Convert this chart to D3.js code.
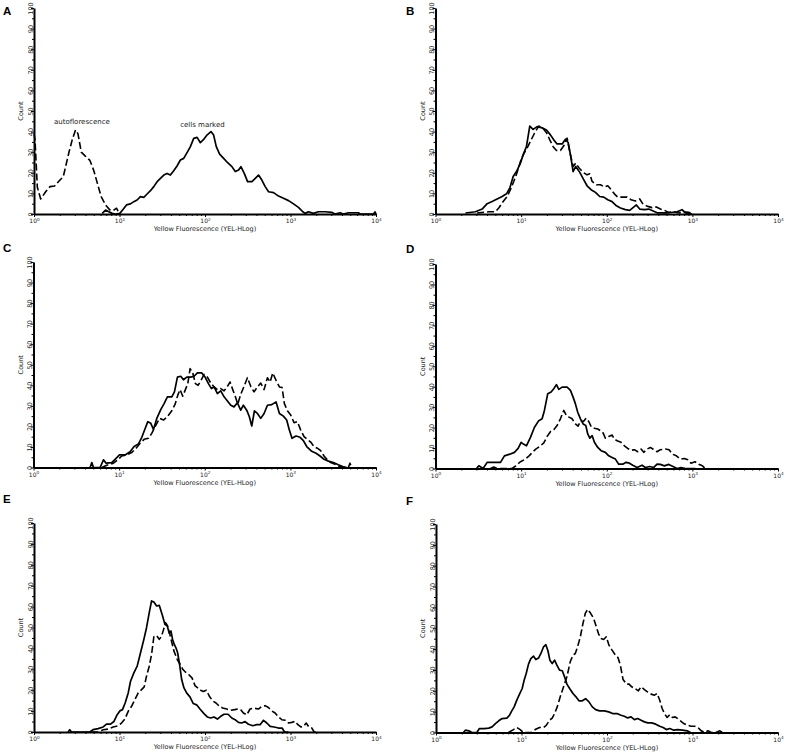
<!DOCTYPE html>
<html>
<head>
<meta charset="utf-8">
<script src="https://cdn.jsdelivr.net/npm/d3@7"></script>
<style>
  body { margin: 0; background: #fff; }
  svg { display: block; }
</style>
</head>
<body>
<div id="app"></div>
<script>
// axis ticks
const decades = [0, 1, 2, 3, 4];
const countTicks = [0, 10, 20, 30, 40, 50, 60, 70, 80, 90, 100];
const xTitle = 'Yellow Fluorescence (YEL-HLog)';
const yTitle = 'Count';

// every curve is a list of [log10 fluorescence, count]
const aDashed = [[0,39],[0.012,36],[0.039,13],[0.078,7.3],[0.136,10.8],[0.187,13.3],[0.241,13.6],[0.304,16.5],[0.342,18.1],[0.37,23],[0.409,30],[0.447,36],[0.486,40.8],[0.514,39],[0.553,30],[0.603,28],[0.654,26],[0.7,21],[0.747,14],[0.786,8.4],[0.837,4.4],[0.887,2],[0.926,1.6],[0.965,2.8],[1.0,0]];
const aSolid = [[0.798,0.3],[0.837,1.9],[0.875,1.1],[0.914,0.3],[0.953,0],[1.004,0.3],[1.043,2.3],[1.082,4.4],[1.128,4.9],[1.167,6],[1.206,6.8],[1.245,8.4],[1.284,8.1],[1.323,9.7],[1.362,11.3],[1.401,13.3],[1.44,15.7],[1.479,17.3],[1.518,18.9],[1.556,19.7],[1.595,18.9],[1.634,21],[1.673,23.3],[1.712,26.2],[1.751,27],[1.79,29.8],[1.829,32.7],[1.868,36.7],[1.907,37.2],[1.946,34.6],[1.984,36.2],[2.023,38.3],[2.07,40],[2.101,38.3],[2.132,32.7],[2.171,29.1],[2.218,27],[2.265,24.9],[2.315,23],[2.354,20.6],[2.393,21.4],[2.42,23],[2.459,19.7],[2.498,15.7],[2.549,15.7],[2.588,17.3],[2.626,18.9],[2.665,16.5],[2.704,13.3],[2.743,10.8],[2.802,10.4],[2.86,8.7],[2.918,7.6],[2.977,6.5],[3.035,4.9],[3.093,3.2],[3.144,1.1],[3.171,0.3],[3.21,1.1],[3.268,0.3],[3.327,1.1],[3.405,1.1],[3.482,0.8],[3.521,0],[3.58,0.6],[3.619,0],[3.677,0.6],[3.794,0.6],[3.813,0],[3.969,0],[3.988,1],[4.0,0]];

const bSolid = [[0.35,0.5],[0.467,1.1],[0.545,2.4],[0.603,5],[0.661,6.1],[0.72,7.3],[0.778,8.5],[0.829,9.8],[0.868,12.6],[0.907,18.2],[0.946,20.6],[0.992,24.7],[1.023,28.7],[1.062,32.7],[1.101,42.7],[1.14,41.1],[1.187,42.4],[1.245,41.8],[1.296,40.8],[1.342,38.4],[1.381,36],[1.42,34],[1.479,34],[1.518,36.3],[1.549,34.7],[1.58,27.9],[1.607,20.6],[1.638,23.1],[1.685,20.2],[1.732,16.6],[1.77,13.7],[1.817,11.8],[1.868,10.5],[1.918,8.5],[1.965,8.2],[2.012,6.9],[2.062,6],[2.113,4],[2.16,2.9],[2.218,2.1],[2.268,1.8],[2.307,3.1],[2.346,4.4],[2.385,2.4],[2.44,2.1],[2.49,2.4],[2.549,1.3],[2.595,0.5],[2.704,0.5],[2.821,1.1],[2.879,2.1],[2.918,0.5],[2.996,0]];
const bDashed = [[0.486,0.5],[0.623,1.1],[0.7,1.1],[0.739,2.9],[0.79,6.1],[0.837,8.5],[0.875,11.8],[0.914,15.8],[0.953,20.2],[1.0,26.6],[1.039,29.8],[1.078,32.7],[1.117,36],[1.156,39.2],[1.206,42.7],[1.257,41.5],[1.296,39.5],[1.335,36],[1.374,32.7],[1.412,30.8],[1.459,30.8],[1.498,33.1],[1.537,36.8],[1.576,28.7],[1.607,23.1],[1.638,24.7],[1.677,22.3],[1.724,20.2],[1.77,19],[1.802,19.5],[1.829,15.8],[1.879,14.2],[1.926,14.2],[1.973,13.1],[2.012,13.7],[2.051,11.8],[2.089,9.8],[2.128,8.2],[2.179,8.2],[2.237,8.2],[2.284,6.9],[2.335,6.3],[2.385,7.3],[2.424,4.7],[2.479,3.7],[2.529,3.1],[2.58,3.4],[2.626,2.4],[2.673,1.8],[2.724,0.8],[2.782,1.1],[2.84,0.5],[2.899,1.1],[2.957,0.8],[3.016,0]];

const cSolid = [[0.661,0],[0.681,2.4],[0.7,0],[0.778,0],[0.817,3.7],[0.848,2.1],[0.914,2.4],[0.953,4],[1.004,6.1],[1.07,6.1],[1.128,7.7],[1.175,10.2],[1.226,11.5],[1.265,14.7],[1.304,19],[1.335,22.3],[1.37,21.5],[1.401,18.5],[1.44,23.9],[1.486,28.2],[1.525,31.1],[1.564,34.4],[1.615,34.4],[1.646,36.8],[1.681,44],[1.72,44.4],[1.751,42.7],[1.79,44],[1.837,44],[1.875,44.4],[1.914,46],[1.965,46],[2.004,44],[2.043,40.8],[2.078,38.4],[2.109,39.2],[2.148,36],[2.187,37.3],[2.226,34.4],[2.265,32.4],[2.304,30.3],[2.342,29.5],[2.381,31.5],[2.42,27.9],[2.451,30.3],[2.49,27.9],[2.521,24.7],[2.549,20.2],[2.58,27.6],[2.615,26.3],[2.654,23.9],[2.693,26.3],[2.732,30.3],[2.782,30.6],[2.833,31.9],[2.872,26.3],[2.918,25],[2.957,23.1],[2.988,18.2],[3.019,14.2],[3.066,15.3],[3.113,14.7],[3.152,13.1],[3.191,10.2],[3.249,7.9],[3.3,6.9],[3.346,5.6],[3.393,4],[3.444,3.1],[3.502,2.4],[3.56,1.3],[3.611,0.5],[3.658,0]];
const cDashed = [[0.798,0],[0.856,1.1],[0.934,2.1],[0.981,3.7],[1.031,5.6],[1.089,6.1],[1.148,7.3],[1.198,9.4],[1.245,11.8],[1.292,13.7],[1.342,14.2],[1.381,16.6],[1.42,19.8],[1.471,23.9],[1.518,23.1],[1.564,24.7],[1.615,27.6],[1.654,30.8],[1.685,35.2],[1.712,37.9],[1.743,34.7],[1.774,37.9],[1.802,40.8],[1.829,48.1],[1.86,46],[1.891,40.8],[1.922,40],[1.957,42.4],[1.992,45.3],[2.031,44],[2.07,41.1],[2.109,39.2],[2.148,37.9],[2.187,38.4],[2.226,37.3],[2.265,39.5],[2.296,41.6],[2.327,37.9],[2.358,34.4],[2.385,30.8],[2.42,35.6],[2.459,39.5],[2.498,43.7],[2.537,39.5],[2.576,36.8],[2.615,39.2],[2.654,41.1],[2.693,37.9],[2.732,43.7],[2.763,41.6],[2.794,46],[2.833,42.4],[2.872,39.2],[2.903,38.9],[2.93,31.1],[2.965,27.6],[3.004,25.5],[3.043,21.8],[3.082,22.3],[3.121,18.2],[3.16,15],[3.198,13.7],[3.237,12.4],[3.276,10.2],[3.315,9.4],[3.354,8.2],[3.393,5.6],[3.432,3.7],[3.471,2.4],[3.521,1.6],[3.572,0.5],[3.619,0],[3.677,0],[3.696,2.1],[3.716,0]];

const dSolid = [[0.479,0],[0.506,1.3],[0.556,0],[0.603,3],[0.759,3],[0.805,6.2],[0.868,7],[0.922,7.9],[0.965,9.8],[1.0,12.8],[1.031,11.8],[1.062,11.1],[1.109,15.2],[1.156,20.2],[1.206,23.4],[1.245,24.3],[1.272,28.4],[1.311,36.6],[1.35,37.4],[1.381,39],[1.412,41],[1.44,38.7],[1.479,39.8],[1.537,39.8],[1.576,38.2],[1.607,34.9],[1.634,31.6],[1.661,27.5],[1.693,24.3],[1.724,21.8],[1.755,21],[1.778,16.9],[1.802,14.8],[1.829,16.1],[1.856,12.8],[1.895,10.3],[1.934,8.7],[1.984,7.9],[2.023,6.2],[2.062,5.4],[2.101,4.6],[2.14,2.1],[2.187,2.1],[2.226,3],[2.265,2.6],[2.304,1.6],[2.354,0.5],[2.412,1.6],[2.451,0.5],[2.502,1],[2.549,0.5],[2.588,2.1],[2.626,2],[2.673,1.3],[2.724,2],[2.774,1],[2.821,0],[2.868,0.5],[2.918,0],[3.035,0]];
const dDashed = [[0.642,0],[0.681,0.7],[0.72,0],[0.895,0],[0.938,1.3],[0.992,3.3],[1.051,4.6],[1.093,6.2],[1.132,7.9],[1.171,9.5],[1.218,10.8],[1.265,12.5],[1.304,15.7],[1.342,18],[1.381,19],[1.42,21],[1.459,24.3],[1.498,28.4],[1.529,25.9],[1.56,25.1],[1.595,24.3],[1.634,21.8],[1.665,20.7],[1.696,23.4],[1.728,23],[1.759,24.6],[1.79,23],[1.821,20.2],[1.856,19.7],[1.895,19.3],[1.926,18.5],[1.957,17.4],[1.984,14.8],[2.023,15.7],[2.062,16.4],[2.089,14.4],[2.128,13.4],[2.167,12.8],[2.206,11.1],[2.245,9.8],[2.284,8.9],[2.323,9.2],[2.362,8.2],[2.401,9.5],[2.432,7.9],[2.471,9.5],[2.51,10.3],[2.549,9.2],[2.588,8.2],[2.626,9.2],[2.685,9.5],[2.728,9.2],[2.767,7],[2.813,6.2],[2.86,4.6],[2.907,4.9],[2.946,4.3],[2.984,2.6],[3.031,3.3],[3.074,2.1],[3.117,1.3],[3.152,0]];

const eSolid = [[0.398,0],[0.418,1.1],[0.438,0],[0.652,0],[0.691,1.1],[0.75,1.6],[0.809,2.4],[0.848,3.8],[0.895,3.8],[0.934,5],[0.973,8.3],[1.004,10.1],[1.035,10.7],[1.066,13.9],[1.102,18.7],[1.129,24.3],[1.168,28.3],[1.207,31.5],[1.246,37.9],[1.285,44.3],[1.316,49.9],[1.348,57.1],[1.375,62.7],[1.402,62.2],[1.434,60.3],[1.465,60.6],[1.504,55.5],[1.531,51.5],[1.559,50.7],[1.582,47.2],[1.602,48.3],[1.621,44.3],[1.641,41.9],[1.66,40.3],[1.68,37.9],[1.703,32.3],[1.727,25.1],[1.754,21.1],[1.785,18.7],[1.824,16.8],[1.863,13.6],[1.902,13],[1.941,11],[1.988,8.8],[2.027,7.2],[2.066,6.7],[2.105,7.2],[2.145,6.2],[2.184,7.5],[2.223,8.5],[2.27,8.5],[2.313,6.7],[2.352,5.9],[2.391,4.6],[2.43,4.3],[2.469,5],[2.508,3.7],[2.559,3],[2.605,3.5],[2.645,3.5],[2.684,5.6],[2.723,4.3],[2.762,2.7],[2.809,2.4],[2.859,1.9],[2.902,1.9],[2.93,0],[2.977,0]];
const eDashed = [[0.672,0],[0.75,0],[0.809,1.1],[0.867,1.4],[0.926,2.4],[0.984,3],[1.023,4.3],[1.063,6.2],[1.102,9.9],[1.141,12.3],[1.18,15.5],[1.219,18.7],[1.258,20.3],[1.289,21.6],[1.316,26.7],[1.348,31.5],[1.375,37.1],[1.402,45.6],[1.434,46.2],[1.465,44.3],[1.492,45.9],[1.516,49.1],[1.539,52.3],[1.563,50.7],[1.586,47.2],[1.613,42.7],[1.637,38.7],[1.676,34.7],[1.711,32.3],[1.742,29.9],[1.773,28.6],[1.809,27.5],[1.848,25.9],[1.883,22.2],[1.918,21],[1.949,20],[1.98,19.4],[2.016,20],[2.051,17.1],[2.09,14.9],[2.129,13.9],[2.168,12.3],[2.207,11.5],[2.254,11],[2.301,10.4],[2.348,10.7],[2.387,11],[2.418,10.7],[2.449,9.1],[2.488,8.2],[2.527,11],[2.574,11.4],[2.625,11],[2.664,12.3],[2.703,12.6],[2.742,11.7],[2.781,10.1],[2.82,9.1],[2.859,7.2],[2.898,5.9],[2.938,5.6],[2.977,4.3],[3.016,4.6],[3.055,5.1],[3.086,3.5],[3.121,2.4],[3.152,2.7],[3.184,4.3],[3.215,2.4],[3.25,1.9],[3.277,0],[3.309,0]];

const fSolid = [[0.32,0],[0.344,1.1],[0.383,0.8],[0.422,0],[0.477,0],[0.508,1.9],[0.563,1.9],[0.617,2.1],[0.656,2.7],[0.695,4.3],[0.734,5.6],[0.773,6.7],[0.828,6.9],[0.859,8.2],[0.883,10.1],[0.914,12.3],[0.945,15.5],[0.977,18.4],[1.008,21.1],[1.031,25.1],[1.055,28.3],[1.082,32.8],[1.109,35.4],[1.141,36.6],[1.168,35],[1.199,35.7],[1.227,37.9],[1.258,41.1],[1.285,42.1],[1.309,39.2],[1.332,34.7],[1.359,33.1],[1.387,34.7],[1.414,32.3],[1.445,29.9],[1.477,29.6],[1.504,26.7],[1.531,23.2],[1.563,21.1],[1.602,18.7],[1.637,17.1],[1.672,15.2],[1.711,15.2],[1.75,16.2],[1.789,14.7],[1.828,12.3],[1.867,11],[1.914,10.4],[1.969,10.4],[2.02,9.9],[2.066,9.1],[2.117,9.1],[2.164,8.3],[2.203,7.8],[2.242,7],[2.281,7.5],[2.32,6.2],[2.359,6.7],[2.398,5.9],[2.438,5.1],[2.477,4.6],[2.523,4.6],[2.57,4],[2.617,3],[2.656,2.4],[2.695,1.4],[2.734,1.9],[2.781,1.1],[2.828,1.4],[2.883,1.1],[2.938,0.8],[2.977,0]];
const fDashed = [[0.848,0],[0.906,1.4],[0.945,2.4],[0.984,1.4],[1.023,0],[1.121,0],[1.16,1.4],[1.211,2.4],[1.258,2.4],[1.289,3.4],[1.328,5.9],[1.359,6.9],[1.387,9.1],[1.418,12.3],[1.453,17.1],[1.492,21.9],[1.531,26.7],[1.57,33.9],[1.602,37.1],[1.629,37.9],[1.656,41.1],[1.688,45.9],[1.719,52.3],[1.746,57.1],[1.773,59],[1.805,57.4],[1.844,54.7],[1.875,50.7],[1.902,47.2],[1.93,45.1],[1.961,44.6],[1.992,45.9],[2.023,41.9],[2.059,39.5],[2.098,37.1],[2.129,35.9],[2.156,32.3],[2.188,25.4],[2.227,23.2],[2.258,23.2],[2.289,21.9],[2.328,21.1],[2.367,20],[2.398,21.9],[2.438,20.6],[2.477,19.4],[2.516,18.4],[2.555,17.9],[2.586,18.7],[2.617,15.5],[2.645,11.5],[2.672,9.1],[2.703,7.2],[2.734,8.5],[2.766,7.2],[2.797,7.5],[2.828,6.6],[2.859,5.6],[2.898,4.3],[2.938,3.5],[2.984,3],[3.023,3],[3.063,2.4],[3.102,0.8],[3.141,0],[3.18,0.8],[3.219,0],[3.27,0],[3.32,0.8],[3.352,0]];

// panel A annotations: [text, log10 fluorescence, count]
const annotations = [['autoflorescence', 0.56, 43.7], ['cells marked', 1.97, 42.4]];

// panel frames (pixel layout)
const panels = [
  { letter: 'A', x0: 34, x1: 376, y0: 214, yTop: 8, lx: 3, ly: 14.5, solid: aSolid, dashed: aDashed, notes: annotations },
  { letter: 'B', x0: 435.5, x1: 778, y0: 214, yTop: 8, lx: 406, ly: 14.5, solid: bSolid, dashed: bDashed },
  { letter: 'C', x0: 33.5, x1: 376, y0: 467.5, yTop: 262, lx: 3, ly: 252, solid: cSolid, dashed: cDashed },
  { letter: 'D', x0: 435.5, x1: 778, y0: 468.5, yTop: 264, lx: 406, ly: 252.5, solid: dSolid, dashed: dDashed },
  { letter: 'E', x0: 34, x1: 376, y0: 732, yTop: 523, lx: 3, ly: 503, solid: eSolid, dashed: eDashed },
  { letter: 'F', x0: 436, x1: 778, y0: 732.5, yTop: 524, lx: 406, ly: 505, solid: fSolid, dashed: fDashed },
];

const FONT = 'DejaVu Sans, Verdana, sans-serif';

const svg = d3.select('#app')
  .append('svg')
  .attr('width', 787)
  .attr('height', 753)
  .style('font-family', FONT);

const minorTicks = [];
for (let e = 0; e < 4; e++) {
  for (let m = 2; m <= 9; m++) minorTicks.push(m * 10 ** e);
}

panels.forEach((p) => {
  const g = svg.append('g');
  const x = d3.scaleLog().domain([1, 1e4]).range([p.x0, p.x1]);
  const y = d3.scaleLinear().domain([0, 100]).range([p.y0, p.yTop]);

  const line = d3.line()
    .x((d) => x(10 ** d[0]))
    .y((d) => y(d[1]));

  // curves
  g.append('path')
    .datum(p.dashed)
    .attr('d', line)
    .attr('fill', 'none')
    .attr('stroke', '#000')
    .attr('stroke-width', 1.6)
    .attr('stroke-dasharray', '7,3')
    .attr('stroke-linejoin', 'round');

  g.append('path')
    .datum(p.solid)
    .attr('d', line)
    .attr('fill', 'none')
    .attr('stroke', '#000')
    .attr('stroke-width', 1.7)
    .attr('stroke-linejoin', 'round');

  // x axis minor ticks
  g.append('g')
    .attr('transform', `translate(0,${p.y0})`)
    .call(d3.axisBottom(x).tickValues(minorTicks).tickSize(2).tickFormat(''))
    .call((a) => a.select('.domain').remove())
    .call((a) => a.selectAll('line').attr('stroke-width', 1));

  // x axis major ticks + labels
  g.append('g')
    .attr('transform', `translate(0,${p.y0})`)
    .call(d3.axisBottom(x).tickValues(decades.map((d) => 10 ** d)).tickSize(3).tickSizeOuter(0))
    .call((a) => a.select('.domain').attr('stroke-width', 2))
    .call((a) => a.selectAll('.tick line').attr('stroke-width', 1))
    .call((a) => a.selectAll('.tick text').each(function (d) {
      const t = d3.select(this)
        .text(null)
        .attr('y', 9)
        .attr('dy', 0)
        .attr('font-size', 6)
        .attr('fill', '#222')
        .attr('font-family', FONT);
      t.append('tspan').text('10');
      t.append('tspan')
        .attr('dy', -2.5)
        .attr('font-size', 4.2)
        .text(Math.round(Math.log10(d)));
    }));

  // y axis
  g.append('g')
    .attr('transform', `translate(${p.x0},0)`)
    .call(d3.axisLeft(y).tickValues(countTicks).tickSize(3).tickSizeOuter(0))
    .call((a) => a.select('.domain').attr('stroke-width', 2))
    .call((a) => a.selectAll('.tick line').attr('stroke-width', 1))
    .call((a) => a.selectAll('.tick text')
      .attr('transform', 'rotate(-90)')
      .attr('x', 0)
      .attr('y', -1.5)
      .attr('dy', 0)
      .attr('text-anchor', 'middle')
      .attr('font-size', 6.5)
      .attr('fill', '#222')
      .attr('font-family', FONT));

  // minor y ticks
  g.append('g')
    .attr('transform', `translate(${p.x0},0)`)
    .call(d3.axisLeft(y).tickValues(d3.range(5, 100, 10)).tickSize(2).tickFormat(''))
    .call((a) => a.select('.domain').remove());

  // axis titles
  g.append('text')
    .attr('x', (p.x0 + p.x1) / 2)
    .attr('y', p.y0 + 17)
    .attr('text-anchor', 'middle')
    .attr('font-size', 6.5)
    .attr('fill', '#222')
    .text(xTitle);

  g.append('text')
    .attr('transform', `translate(${p.x0 - 11},${(p.y0 + p.yTop) / 2}) rotate(-90)`)
    .attr('text-anchor', 'middle')
    .attr('font-size', 6.5)
    .attr('fill', '#222')
    .text(yTitle);

  // panel letter
  g.append('text')
    .attr('x', p.lx)
    .attr('y', p.ly)
    .attr('font-family', 'Liberation Sans, Arial, sans-serif')
    .attr('font-weight', 'bold')
    .attr('font-size', 11.5)
    .text(p.letter);

  // annotations
  if (p.notes) {
    g.selectAll('text.note')
      .data(p.notes)
      .join('text')
      .attr('class', 'note')
      .attr('x', (d) => x(10 ** d[1]))
      .attr('y', (d) => y(d[2]))
      .attr('text-anchor', 'middle')
      .attr('font-size', 7)
      .attr('fill', '#222')
      .text((d) => d[0]);
  }
});
</script>
</body>
</html>
